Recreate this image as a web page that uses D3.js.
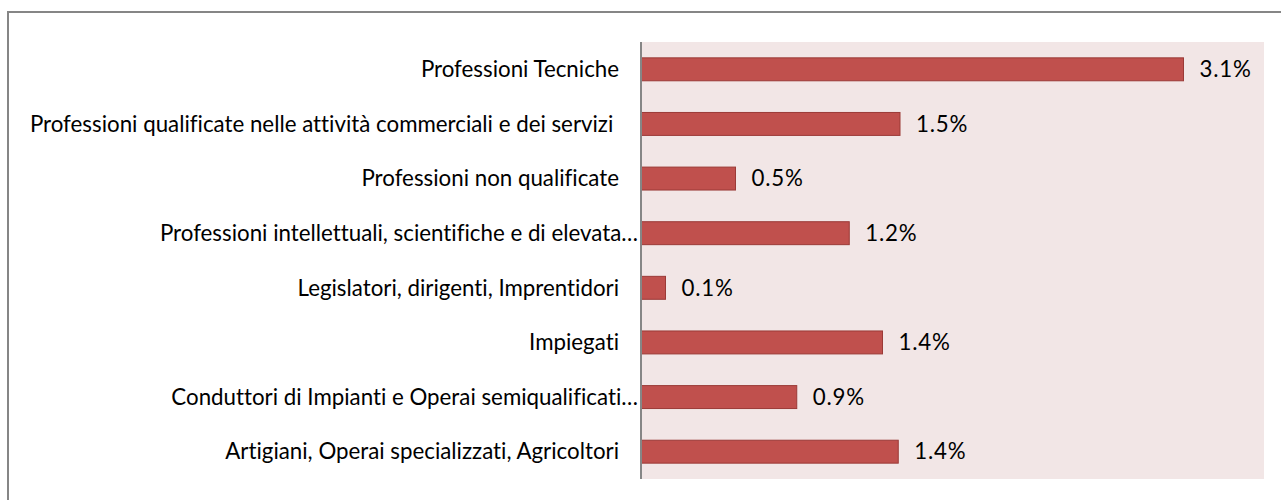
<!DOCTYPE html>
<html>
<head>
<meta charset="utf-8">
<script src="https://cdn.jsdelivr.net/npm/d3@7"></script>
<style>
  html, body { margin: 0; padding: 0; background: #fff; }
  svg text { font-family: Lato, 'Open Sans', sans-serif; white-space: pre; font-variant-ligatures: none; }
</style>
</head>
<body>
<div id="chart"></div>
<script>
// categories, top to bottom
const categorie = [
  'Professioni Tecniche',
  'Professioni qualificate nelle attività commerciali e dei servizi ',
  'Professioni non qualificate',
  'Professioni intellettuali, scientifiche e di elevata…',
  'Legislatori, dirigenti, Imprentidori',
  'Impiegati',
  'Conduttori di Impianti e Operai semiqualificati…',
  'Artigiani, Operai specializzati, Agricoltori'
];
// percent values
const valori = [3.10, 1.48, 0.54, 1.19, 0.14, 1.38, 0.89, 1.47];
// value labels as shown
const etichette = ['3.1%', '1.5%', '0.5%', '1.2%', '0.1%', '1.4%', '0.9%', '1.4%'];

const width = 1281, height = 500;
const plot = { left: 641, right: 1264, top: 42, bottom: 479 };
const fontSize = 22.3;

const svg = d3.select('#chart').append('svg')
  .attr('width', width)
  .attr('height', height)
  .attr('viewBox', [0, 0, width, height]);

// outer chart border (right/bottom edges fall outside the picture)
svg.append('rect')
  .attr('x', 8).attr('y', 12)
  .attr('width', 1290).attr('height', 520)
  .attr('fill', 'none')
  .attr('stroke', '#868686')
  .attr('stroke-width', 2);

// plot area
svg.append('rect')
  .attr('x', plot.left).attr('y', plot.top)
  .attr('width', plot.right - plot.left)
  .attr('height', plot.bottom - plot.top)
  .attr('fill', '#f2e6e6');

const x = d3.scaleLinear().domain([0, 3.56]).range([plot.left, plot.right]);
const y = d3.scaleBand().domain(categorie).range([plot.top, plot.bottom]).paddingInner(0.58).paddingOuter(0.29);

const data = categorie.map((c, i) => ({ cat: c, val: valori[i], lab: etichette[i] }));

// bars
svg.append('g')
  .selectAll('rect')
  .data(data)
  .join('rect')
  .attr('x', x(0))
  .attr('y', d => y(d.cat))
  .attr('width', d => x(d.val) - x(0))
  .attr('height', y.bandwidth())
  .attr('fill', '#c0504d')
  .attr('stroke', '#9b3a37')
  .attr('stroke-width', 1);

// value labels
svg.append('g')
  .selectAll('text')
  .data(data)
  .join('text')
  .attr('x', d => x(d.val) + 16)
  .attr('y', d => y(d.cat) + y.bandwidth() / 2)
  .attr('dy', '0.35em')
  .attr('font-size', fontSize)
  .attr('letter-spacing', 0.8)
  .attr('fill', '#000')
  .text(d => d.lab);

// category labels
svg.append('g')
  .selectAll('text')
  .data(data)
  .join('text')
  .attr('x', d => d.cat.endsWith('…') ? plot.left - 3 : plot.left - 22)
  .attr('y', d => y(d.cat) + y.bandwidth() / 2)
  .attr('dy', '0.35em')
  .attr('text-anchor', 'end')
  .attr('font-size', fontSize)
  .attr('fill', '#000')
  .text(d => d.cat);

// vertical category axis line
svg.append('line')
  .attr('x1', plot.left).attr('x2', plot.left)
  .attr('y1', plot.top).attr('y2', plot.bottom)
  .attr('stroke', '#868686')
  .attr('stroke-width', 2);
</script>
</body>
</html>
